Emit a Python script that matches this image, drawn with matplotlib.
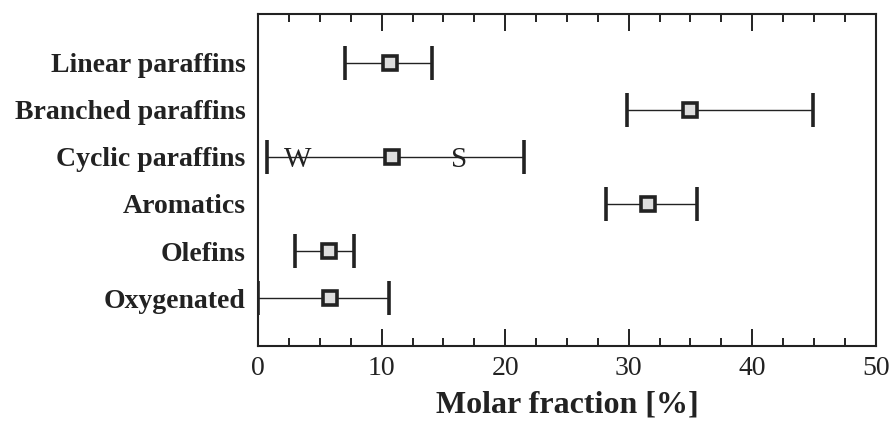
import numpy as np
import matplotlib.pyplot as plt
from matplotlib.ticker import MultipleLocator

plt.rcParams["font.family"] = ["Liberation Serif", "DejaVu Serif"]

categories = ["Linear paraffins", "Branched paraffins", "Cyclic paraffins",
              "Aromatics", "Olefins", "Oxygenated"]
center = [10.7, 35.0, 10.8, 31.6, 5.7, 5.8]
low = [7.0, 29.9, 0.7, 28.2, 3.0, 0.0]
high = [14.1, 44.9, 21.5, 35.5, 7.8, 10.6]

# W / S annotations on the cyclic paraffins row
notes = ["W", "S"]
note_x = [3.2, 16.3]

center = np.array(center)
xerr = [center - np.array(low), np.array(high) - center]
ypos = np.arange(len(categories), 0, -1)

fig = plt.figure(figsize=(8.9, 4.21), dpi=100)
ax = fig.add_axes([0.29, 0.178, 0.694, 0.789])

dark = "#222222"
ax.errorbar(center, ypos, xerr=xerr, fmt="s", color=dark,
            ecolor=dark, elinewidth=1.0, capsize=12, capthick=3.4,
            markersize=10.5, markerfacecolor="#dddddd",
            markeredgecolor=dark, markeredgewidth=2.6, zorder=3)

cyc = ypos[categories.index("Cyclic paraffins")]
for t, x in zip(notes, note_x):
    ax.annotate(t, (x, cyc), xytext=(0, -2.5), textcoords="offset points",
                fontsize=21, ha="center", va="center", color=dark, zorder=4)

ax.set_xlim(0, 50)
ax.set_ylim(-0.02, 7.04)
ax.set_yticks(ypos)
ax.set_yticklabels(categories, fontsize=20, fontweight="bold")
ax.tick_params(axis="y", length=0, pad=9, colors=dark)

ax.xaxis.set_major_locator(MultipleLocator(10))
ax.xaxis.set_minor_locator(MultipleLocator(2.5))
ax.tick_params(axis="x", which="major", direction="in", length=12,
               width=1.4, top=True, labelsize=20, pad=7, colors=dark)
ax.tick_params(axis="x", which="minor", direction="in", length=6,
               width=1.4, top=True, colors=dark)
ax.set_xlabel("Molar fraction [%]", fontsize=23, fontweight="bold",
              labelpad=7, color=dark)

for s in ax.spines.values():
    s.set_linewidth(1.5)
    s.set_color(dark)

fig.savefig("out.png", dpi=100)
